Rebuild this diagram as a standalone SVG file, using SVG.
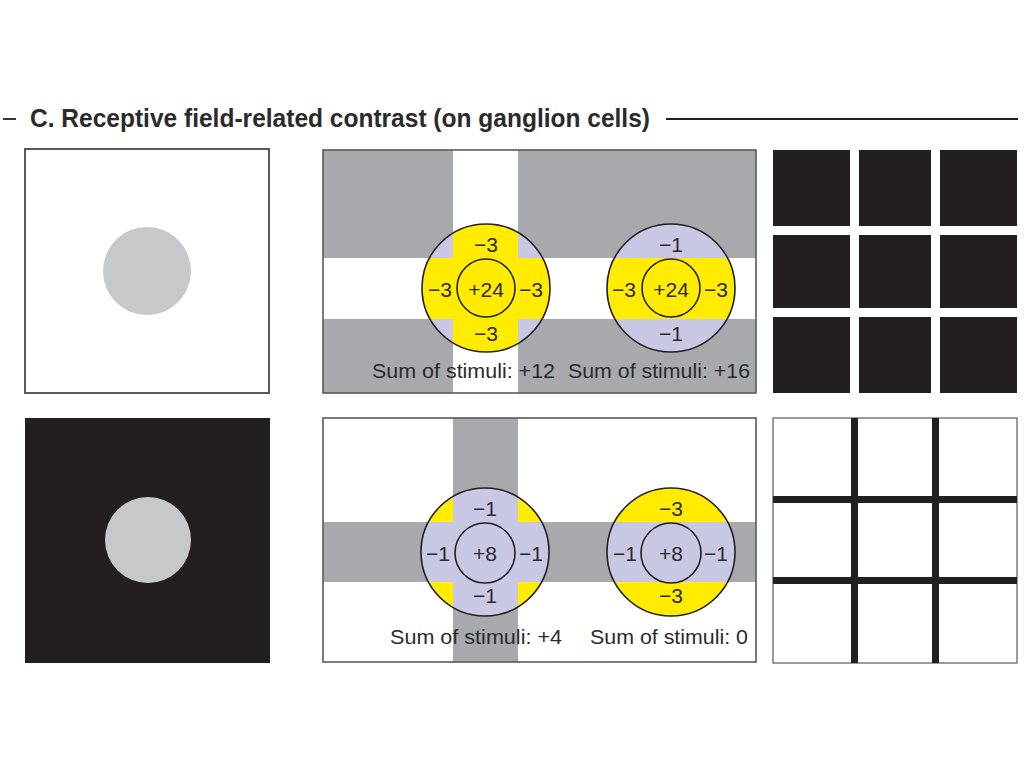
<svg xmlns="http://www.w3.org/2000/svg" width="1024" height="767" viewBox="0 0 1024 767">
<style>
.t{font-family:"Liberation Sans",Arial,sans-serif;fill:#2b2a2c}
.n{font-size:21px;text-anchor:middle}
.lab{font-size:21px}
.ring{fill:none;stroke:#231f20;stroke-width:1.6}
.gray{fill:#a7a9ac}
.lav{fill:#c9c8e4}
.yel{fill:#ffec00}
.dark{fill:#231f20}
.frame{fill:none;stroke:#58595b;stroke-width:1.6}
</style>
<defs>
<clipPath id="c1"><circle cx="486" cy="288" r="64"/></clipPath>
<clipPath id="c2"><circle cx="671" cy="288" r="64"/></clipPath>
<clipPath id="c3"><circle cx="485" cy="552" r="64"/></clipPath>
<clipPath id="c4"><circle cx="671" cy="552" r="64"/></clipPath>
</defs>
<rect width="1024" height="767" fill="#ffffff"/>

<g id="title">
<line x1="3" y1="119" x2="16" y2="119" stroke="#231f20" stroke-width="1.8"/>
<text class="t" x="30" y="127" font-size="25" font-weight="bold" textLength="620" lengthAdjust="spacingAndGlyphs" fill="#231f20">C.  Receptive field-related contrast (on ganglion cells)</text>
<line x1="666" y1="119" x2="1018" y2="119" stroke="#231f20" stroke-width="1.8"/>
</g>

<g id="spot-light">
<rect x="25" y="149" width="244" height="244" fill="#ffffff" stroke="#58595b" stroke-width="2"/>
<circle cx="147" cy="271" r="44" fill="#c7c8ca"/>
</g>

<g id="spot-dark">
<rect x="25" y="418" width="245" height="245" class="dark"/>
<circle cx="148" cy="540" r="43" fill="#c7c8ca"/>
</g>

<g id="field-top">
<rect x="323" y="150" width="433" height="243" class="gray"/>
<rect x="453" y="150" width="65" height="243" fill="#ffffff"/>
<rect x="323" y="258" width="433" height="61" fill="#ffffff"/>
<rect x="323" y="150" width="433" height="243" class="frame"/>
<g id="rf1">
<circle cx="486" cy="288" r="64" class="lav"/>
<g clip-path="url(#c1)">
<rect x="453" y="220" width="65" height="140" class="yel"/>
<rect x="420" y="258" width="135" height="61" class="yel"/>
</g>
<circle cx="486" cy="288" r="64" class="ring"/>
<circle cx="486" cy="288" r="29" class="ring"/>
<text class="t n" x="486" y="252">−3</text>
<text class="t n" x="486" y="341">−3</text>
<text class="t n" x="440" y="297">−3</text>
<text class="t n" x="531" y="297">−3</text>
<text class="t n" x="486" y="297">+24</text>
</g>
<g id="rf2">
<circle cx="671" cy="288" r="64" class="lav"/>
<g clip-path="url(#c2)">
<rect x="600" y="258" width="140" height="61" class="yel"/>
</g>
<circle cx="671" cy="288" r="64" class="ring"/>
<circle cx="671" cy="288" r="29" class="ring"/>
<text class="t n" x="671" y="252">−1</text>
<text class="t n" x="671" y="341">−1</text>
<text class="t n" x="624" y="297">−3</text>
<text class="t n" x="716" y="297">−3</text>
<text class="t n" x="671" y="297">+24</text>
</g>
<text class="t lab" x="372" y="378" textLength="183" lengthAdjust="spacingAndGlyphs">Sum of stimuli: +12</text>
<text class="t lab" x="568" y="378" textLength="182" lengthAdjust="spacingAndGlyphs">Sum of stimuli: +16</text>
</g>

<g id="field-bottom">
<rect x="323" y="418" width="433" height="244" fill="#ffffff"/>
<rect x="453" y="418" width="65" height="244" class="gray"/>
<rect x="323" y="522" width="433" height="60" class="gray"/>
<rect x="323" y="418" width="433" height="244" class="frame"/>
<g id="rf3">
<circle cx="485" cy="552" r="64" class="yel"/>
<g clip-path="url(#c3)">
<rect x="453" y="485" width="65" height="140" class="lav"/>
<rect x="418" y="522" width="135" height="60" class="lav"/>
</g>
<circle cx="485" cy="552" r="64" class="ring"/>
<circle cx="485" cy="553" r="30" class="ring"/>
<text class="t n" x="485" y="516">−1</text>
<text class="t n" x="485" y="603">−1</text>
<text class="t n" x="438" y="561">−1</text>
<text class="t n" x="531" y="561">−1</text>
<text class="t n" x="485" y="561">+8</text>
</g>
<g id="rf4">
<circle cx="671" cy="552" r="64" class="yel"/>
<g clip-path="url(#c4)">
<rect x="600" y="522" width="140" height="60" class="lav"/>
</g>
<circle cx="671" cy="552" r="64" class="ring"/>
<circle cx="671" cy="553" r="30" class="ring"/>
<text class="t n" x="671" y="516">−3</text>
<text class="t n" x="671" y="603">−3</text>
<text class="t n" x="625" y="561">−1</text>
<text class="t n" x="716" y="561">−1</text>
<text class="t n" x="671" y="561">+8</text>
</g>
<text class="t lab" x="390" y="644" textLength="172" lengthAdjust="spacingAndGlyphs">Sum of stimuli: +4</text>
<text class="t lab" x="590" y="644" textLength="158" lengthAdjust="spacingAndGlyphs">Sum of stimuli: 0</text>
</g>

<g id="grid-dark">
<rect x="773" y="150" width="77" height="76" class="dark"/>
<rect x="859" y="150" width="72" height="76" class="dark"/>
<rect x="940" y="150" width="77" height="76" class="dark"/>
<rect x="773" y="235" width="77" height="73" class="dark"/>
<rect x="859" y="235" width="72" height="73" class="dark"/>
<rect x="940" y="235" width="77" height="73" class="dark"/>
<rect x="773" y="317" width="77" height="76" class="dark"/>
<rect x="859" y="317" width="72" height="76" class="dark"/>
<rect x="940" y="317" width="77" height="76" class="dark"/>
</g>

<g id="grid-light">
<rect x="773" y="418" width="244" height="245" fill="#ffffff" stroke="#58595b" stroke-width="1.2"/>
<rect x="851" y="418" width="7" height="245" class="dark"/>
<rect x="932" y="418" width="7" height="245" class="dark"/>
<rect x="773" y="496" width="244" height="7" class="dark"/>
<rect x="773" y="577" width="244" height="7" class="dark"/>
</g>
</svg>
